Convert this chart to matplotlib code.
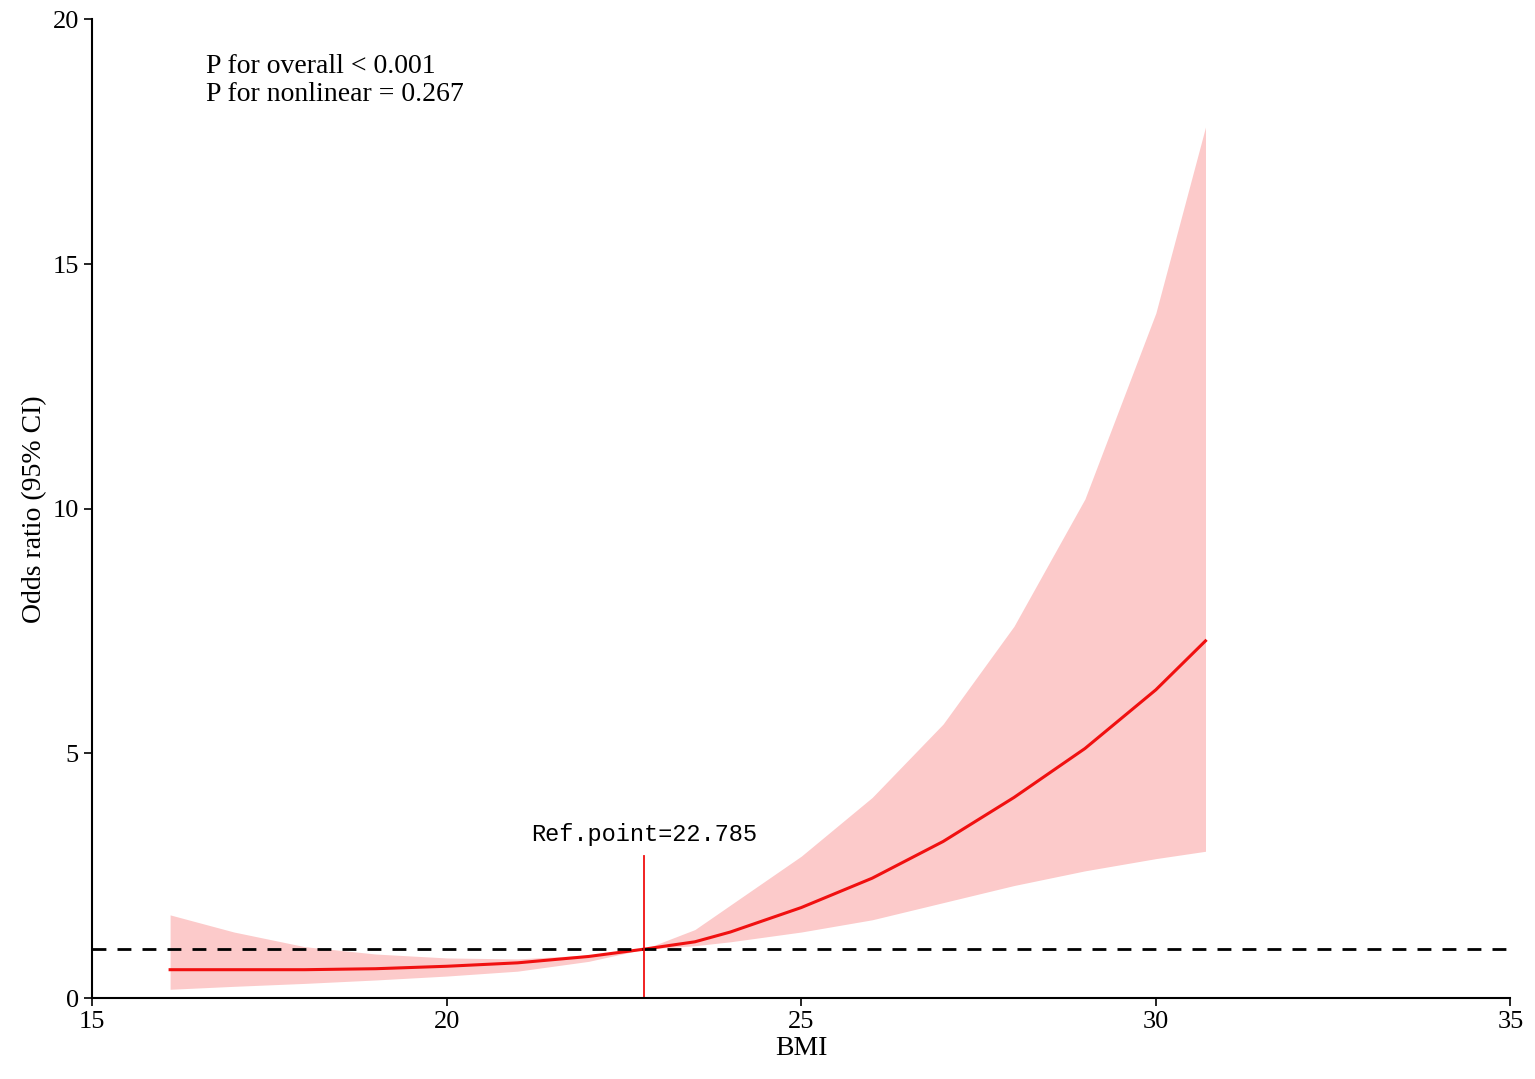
import matplotlib
matplotlib.use("Agg")
import matplotlib.pyplot as plt

bmi = [16.1, 17, 18, 19, 20, 21, 22, 22.785, 23.5, 24, 25, 26, 27, 28, 29, 30, 30.7]
odds = [0.58, 0.58, 0.58, 0.6, 0.65, 0.72, 0.85, 1.0, 1.15, 1.35, 1.85, 2.45, 3.2, 4.1, 5.1, 6.3, 7.3]
upper = [1.7, 1.35, 1.05, 0.9, 0.82, 0.8, 0.88, 1.0, 1.4, 1.9, 2.9, 4.1, 5.6, 7.6, 10.2, 14.0, 17.8]
lower = [0.18, 0.24, 0.3, 0.37, 0.45, 0.55, 0.75, 1.0, 1.07, 1.15, 1.35, 1.6, 1.95, 2.3, 2.6, 2.85, 3.0]
ref_point = 22.785
xticks = [15, 20, 25, 30, 35]
yticks = [0, 5, 10, 15, 20]

plt.rcParams["font.family"] = "Liberation Serif"
fig = plt.figure(figsize=(15.35, 10.79), dpi=100)
ax = fig.add_axes([0.06, 0.075, 0.924, 0.907])
ax.fill_between(bmi, lower, upper, color="#fccaca", linewidth=0)
ax.plot(bmi, odds, color="#f01010", lw=2.2)
ax.axhline(1, color="black", ls=(0, (5, 4)), lw=2)
ax.plot([ref_point, ref_point], [0, 2.9], color="#f01010", lw=1.3)
ax.text(ref_point, 3.1, "Ref.point=22.785", family="Liberation Mono", fontsize=17,
        ha="center", va="bottom")
ax.text(16.6, 19.3, "P for overall < 0.001\nP for nonlinear = 0.267", fontsize=20,
        va="top", linespacing=1.2)
ax.set_xlim(15, 35)
ax.set_ylim(0, 20)
ax.set_xticks(xticks)
ax.set_yticks(yticks)
ax.tick_params(labelsize=19, length=6, width=1.2)
ax.set_xlabel("BMI", fontsize=20, labelpad=2)
ax.set_ylabel("Odds ratio (95% CI)", fontsize=20)
for s in ["top", "right"]:
    ax.spines[s].set_visible(False)
for s in ["left", "bottom"]:
    ax.spines[s].set_linewidth(1.5)
fig.savefig("out.png", dpi=100)
